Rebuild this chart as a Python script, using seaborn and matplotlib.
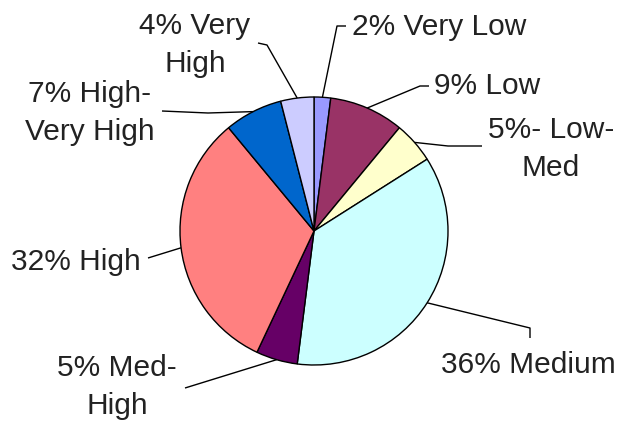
import matplotlib
matplotlib.use("Agg")
import matplotlib.pyplot as plt
import numpy as np
import seaborn as sns

# data
levels = ["Very Low", "Low", "Low-Med", "Medium", "Med-High", "High",
          "High-Very High", "Very High"]
shares = [2, 9, 5, 36, 5, 32, 7, 4]
label_texts = ["2% Very Low", "9% Low", "5%- Low-\nMed", "36% Medium",
               "5% Med-\nHigh", "32% High", "7% High-\nVery High", "4% Very\nHigh"]
slice_colors = ["#9999FF", "#993366", "#FFFFCC", "#CCFFFF",
                "#660066", "#FF8080", "#0066CC", "#CCCCFF"]

sns.set_style("white")
plt.rcParams['font.family'] = ['Liberation Sans', 'DejaVu Sans']

W, H = 623, 421
CX, CY, R = 314, 231, 134   # pie centre / radius in pixels


def px(x, y):
    """pixel position (from top-left) -> data units around the pie."""
    return ((x - CX) / R, (CY - y) / R)


# label layout: text anchor (px), horizontal alignment, leader bend points (px)
layout = [
    ((352, 27), 'left', [(337, 26), (346, 26)]),
    ((434, 86), 'left', [(420, 86), (429, 86)]),
    ((551, 149), 'center', [(448, 146), (482, 146)]),
    ((528, 365), 'center', [(530, 328), (530, 338)]),
    ((117, 387), 'center', [(185, 388)]),
    ((11, 262), 'left', [(148, 258)]),
    ((90, 113), 'center', [(208, 113), (162, 111)]),
    ((195, 45), 'center', [(267, 45), (258, 43)]),
]

fig = plt.figure(figsize=(W / 100, H / 100), dpi=100, facecolor='white')
ax = fig.add_axes([0, 0, 1, 1])
wedges, _ = ax.pie(shares, colors=sns.color_palette(slice_colors), startangle=90,
                   counterclock=False, radius=1, labels=None,
                   wedgeprops={'edgecolor': 'black', 'linewidth': 1.0})
ax.set_xlim(-CX / R, (W - CX) / R)
ax.set_ylim(-(H - CY) / R, CY / R)
ax.set_aspect('equal')
ax.axis('off')

for w, txt, (pos, ha, bends) in zip(wedges, label_texts, layout):
    mid = np.deg2rad((w.theta1 + w.theta2) / 2)
    pts = [(np.cos(mid), np.sin(mid))] + [px(*b) for b in bends]
    xs, ys = zip(*pts)
    ax.plot(xs, ys, color='black', lw=1.0, solid_capstyle='butt')
    tx, ty = px(*pos)
    ax.text(tx, ty, txt, ha=ha, va='center', multialignment='center',
            fontsize=21.5, color='#222222', linespacing=1.5)

fig.savefig("out.png", dpi=100, facecolor='white')
